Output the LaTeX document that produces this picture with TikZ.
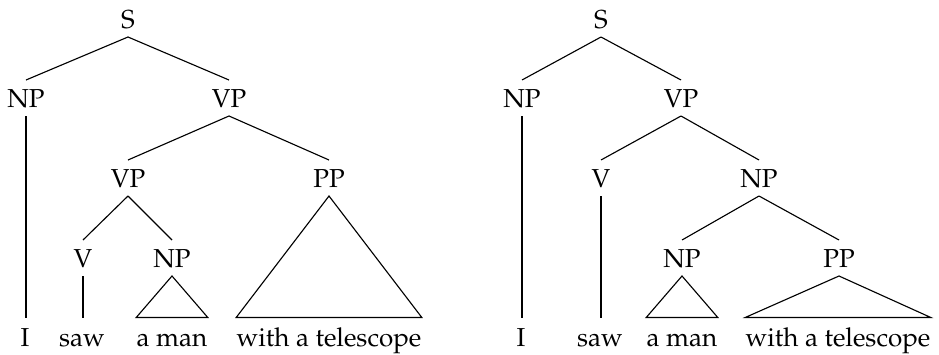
\documentclass[tikz,border=0pt]{standalone}
\usepackage[T1]{fontenc}
\usepackage{palatino}
\begin{document}
\begin{tikzpicture}[x=0.4pt,y=-0.4pt,
  every node/.style={font=\fontsize{10.4}{12}\selectfont},
  cat/.style={anchor=base,inner xsep=0pt,inner ysep=3.4pt,text height=7.2pt,text depth=0pt},
  word/.style={anchor=base,inner xsep=0pt,inner ysep=4pt,text height=7.2pt,text depth=0pt},
  edge/.style={line width=0.45pt}]
\useasboundingbox (0,0) rectangle (939,354);
% left tree
\node[cat] (s) at (128,28) {S};
\node[cat] (np) at (26,107) {NP};
\node[cat] (vp) at (229,107) {VP};
\node[cat] (vp2) at (128,187) {VP};
\node[cat] (pp) at (329,187) {PP};
\node[cat] (v) at (83,267) {V};
\node[cat] (np2) at (172,267) {NP};
\node[word] (wi) at (25,346) {I};
\node[word] (wsaw) at (82,346) {saw};
\node[word] (wman) at (172,346) {a man};
\node[word] (wtel) at (329,346) {with a telescope};
\draw[edge] (s.south) -- (np.north);
\draw[edge] (s.south) -- (vp.north);
\draw[edge] (vp.south) -- (vp2.north);
\draw[edge] (vp.south) -- (pp.north);
\draw[edge] (vp2.south) -- (v.north);
\draw[edge] (vp2.south) -- (np2.north);
\draw[edge] (np.south) -- (np.south |- wi.north);
\draw[edge] (v.south) -- (v.south |- wsaw.north);
\draw[edge] (np2.south) -- (wman.north west) -- (wman.north east) -- cycle;
\draw[edge] (pp.south) -- (wtel.north west) -- (wtel.north east) -- cycle;
% right tree
\node[cat] (rs) at (601,28) {S};
\node[cat] (rnp) at (522,107) {NP};
\node[cat] (rvp) at (681,107) {VP};
\node[cat] (rv) at (601,187) {V};
\node[cat] (rnp2) at (759,187) {NP};
\node[cat] (rnp3) at (682,267) {NP};
\node[cat] (rpp) at (839,267) {PP};
\node[word] (ri) at (521,346) {I};
\node[word] (rsaw) at (600,346) {saw};
\node[word] (rman) at (682,346) {a man};
\node[word] (rtel) at (838,346) {with a telescope};
\draw[edge] (rs.south) -- (rnp.north);
\draw[edge] (rs.south) -- (rvp.north);
\draw[edge] (rvp.south) -- (rv.north);
\draw[edge] (rvp.south) -- (rnp2.north);
\draw[edge] (rnp2.south) -- (rnp3.north);
\draw[edge] (rnp2.south) -- (rpp.north);
\draw[edge] (rnp.south) -- (rnp.south |- ri.north);
\draw[edge] (rv.south) -- (rv.south |- rsaw.north);
\draw[edge] (rnp3.south) -- (rman.north west) -- (rman.north east) -- cycle;
\draw[edge] (rpp.south) -- (rtel.north west) -- (rtel.north east) -- cycle;
\end{tikzpicture}
\end{document}
